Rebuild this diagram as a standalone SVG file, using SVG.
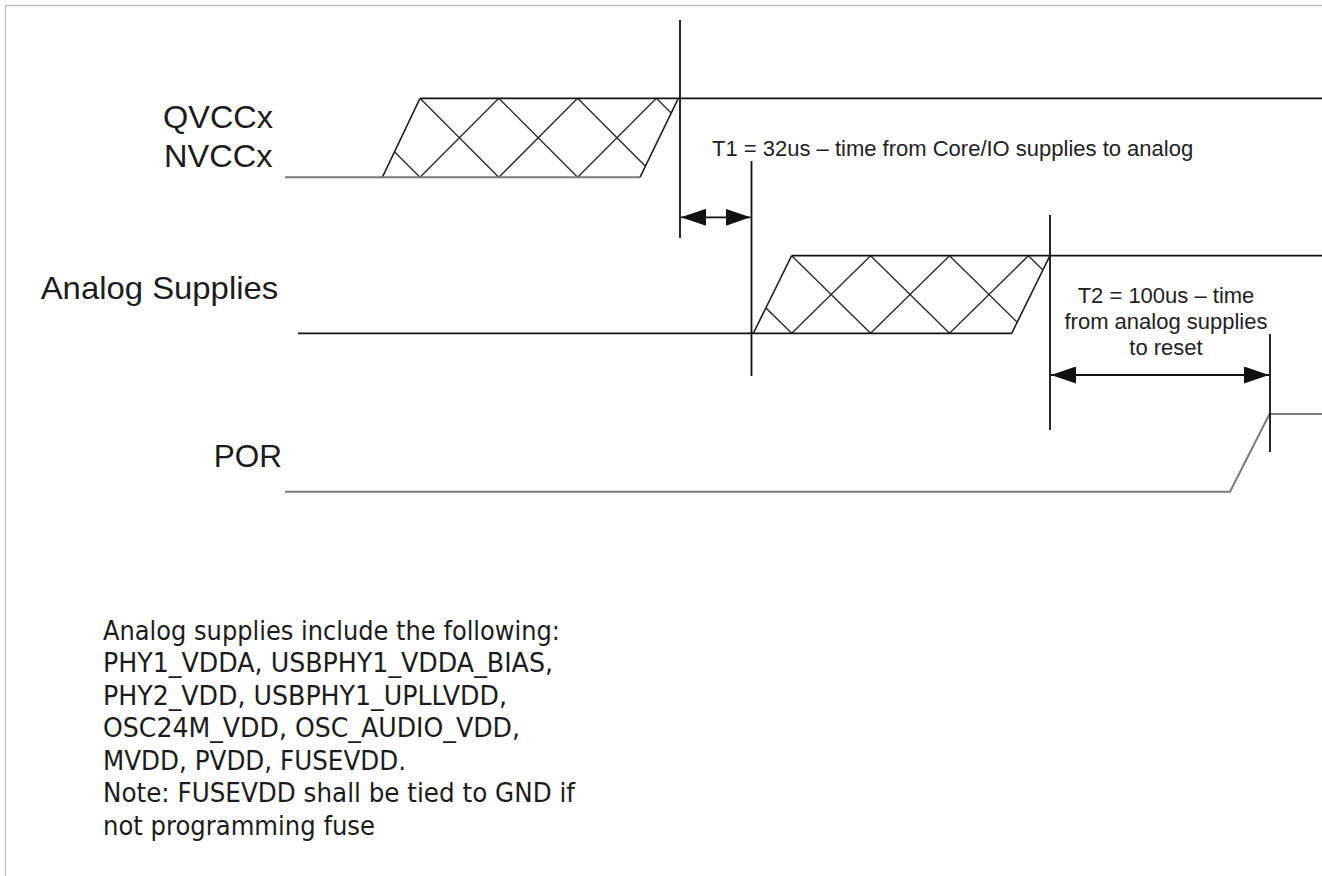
<svg xmlns="http://www.w3.org/2000/svg" width="1322" height="876" viewBox="0 0 1322 876">
<style>
.bg{fill:#ffffff}
.frame{stroke:#c4c4c4;stroke-width:1.5;fill:none}
.blk{stroke:#111;stroke-width:1.8;fill:none}
.gry{stroke:#7a7a7a;stroke-width:2;fill:none}
.hatch{stroke:#333;stroke-width:1.5;fill:none}
.edge{stroke:#222;stroke-width:1.6;fill:none}
.mark{stroke:#111;stroke-width:1.8;fill:none}
.dim{stroke:#111;stroke-width:1.8;fill:none;marker-start:url(#ah);marker-end:url(#ah)}
.lbl{font-family:"Liberation Sans",Arial,sans-serif;font-size:31.5px;fill:#1c1c1c}
.ann{font-family:"Liberation Sans",Arial,sans-serif;font-size:22px;fill:#222}
.note{font-family:"DejaVu Sans","Liberation Sans",sans-serif;font-size:26px;fill:#1c1c1c}
</style>
<defs>
<marker id="ah" markerUnits="userSpaceOnUse" markerWidth="25" markerHeight="17" refX="25" refY="8.5" orient="auto-start-reverse" viewBox="0 0 25 17">
<path d="M0,0 L25,8.5 L0,17 z" fill="#111"/>
</marker>
<clipPath id="clipQ"><polygon points="382.3,177.3 420,98.3 678.3,98.3 640,177.3"/></clipPath>
<clipPath id="clipA"><polygon points="753.3,333.3 791.7,255.7 1050,255.7 1011.7,333.3"/></clipPath>
</defs>
<rect class="bg" x="0" y="0" width="1322" height="876"/>
<path class="frame" d="M5.5,876 V5.5 H1322"/>

<g id="qvcc">
<text class="lbl" x="163" y="128.3" textLength="110" lengthAdjust="spacingAndGlyphs">QVCCx</text>
<text class="lbl" x="164" y="166.7" textLength="108.5" lengthAdjust="spacingAndGlyphs">NVCCx</text>
<g clip-path="url(#clipQ)" class="hatch">
<path d="M341.2,98.3 L420,177.3 M420,98.3 L498.8,177.3 M498.8,98.3 L577.6,177.3 M577.6,98.3 L656.4,177.3 M656.4,98.3 L735.2,177.3"/>
<path d="M498.8,98.3 L420,177.3 M577.6,98.3 L498.8,177.3 M656.4,98.3 L577.6,177.3 M735.2,98.3 L656.4,177.3"/>
</g>
<path class="edge" d="M382.3,177.3 L420,98.3 M640,177.3 L678.3,98.3"/>
<path class="gry" d="M285,177.3 H640"/>
<path class="blk" d="M420,98.3 H1322"/>
</g>

<g id="analog">
<text class="lbl" x="40.7" y="299.3" textLength="237.5" lengthAdjust="spacingAndGlyphs">Analog Supplies</text>
<g clip-path="url(#clipA)" class="hatch">
<path d="M712.8,255.7 L791.7,333.3 M791.7,255.7 L870.6,333.3 M870.6,255.7 L949.5,333.3 M949.5,255.7 L1028.4,333.3 M1028.4,255.7 L1107.3,333.3"/>
<path d="M870.6,255.7 L791.7,333.3 M949.5,255.7 L870.6,333.3 M1028.4,255.7 L949.5,333.3 M1107.3,255.7 L1028.4,333.3"/>
</g>
<path class="edge" d="M753.3,333.3 L791.7,255.7 M1011.7,333.3 L1050,255.7"/>
<path class="blk" d="M298,333.3 H1011.7"/>
<path class="blk" d="M791.7,255.7 H1322"/>
</g>

<g id="por">
<text class="lbl" x="282" y="466.7" text-anchor="end">POR</text>
<path class="gry" d="M285,491.7 H1230 L1269.5,414 H1322"/>
</g>

<g id="connectors">
<path class="mark" d="M680,20 V238"/>
<path class="mark" d="M751.5,161 V376"/>
<path class="mark" d="M1050,215 V430"/>
<path class="mark" d="M1270,334 V452"/>
<line class="dim" x1="681" y1="217.3" x2="750.5" y2="217.3"/>
<line class="dim" x1="1051" y1="375" x2="1269" y2="375"/>
</g>

<g id="t1">
<text class="ann" x="712" y="156">T1 = 32us – time from Core/IO supplies to analog</text>
</g>

<g id="t2">
<text class="ann" text-anchor="middle" x="1166" y="303.3">T2 = 100us – time</text>
<text class="ann" text-anchor="middle" x="1166" y="329.3">from analog supplies</text>
<text class="ann" text-anchor="middle" x="1166" y="355.3">to reset</text>
</g>

<g id="note">
<text class="note" x="103" y="639.5" textLength="457" lengthAdjust="spacingAndGlyphs">Analog supplies include the following:</text>
<text class="note" x="103" y="672" textLength="450" lengthAdjust="spacingAndGlyphs">PHY1_VDDA, USBPHY1_VDDA_BIAS,</text>
<text class="note" x="103" y="704.5" textLength="404" lengthAdjust="spacingAndGlyphs">PHY2_VDD, USBPHY1_UPLLVDD,</text>
<text class="note" x="103" y="737" textLength="417" lengthAdjust="spacingAndGlyphs">OSC24M_VDD, OSC_AUDIO_VDD,</text>
<text class="note" x="103" y="769.5" textLength="303" lengthAdjust="spacingAndGlyphs">MVDD, PVDD, FUSEVDD.</text>
<text class="note" x="103" y="802" textLength="472" lengthAdjust="spacingAndGlyphs">Note: FUSEVDD shall be tied to GND if</text>
<text class="note" x="103" y="834.5" textLength="272" lengthAdjust="spacingAndGlyphs">not programming fuse</text>
</g>
</svg>
